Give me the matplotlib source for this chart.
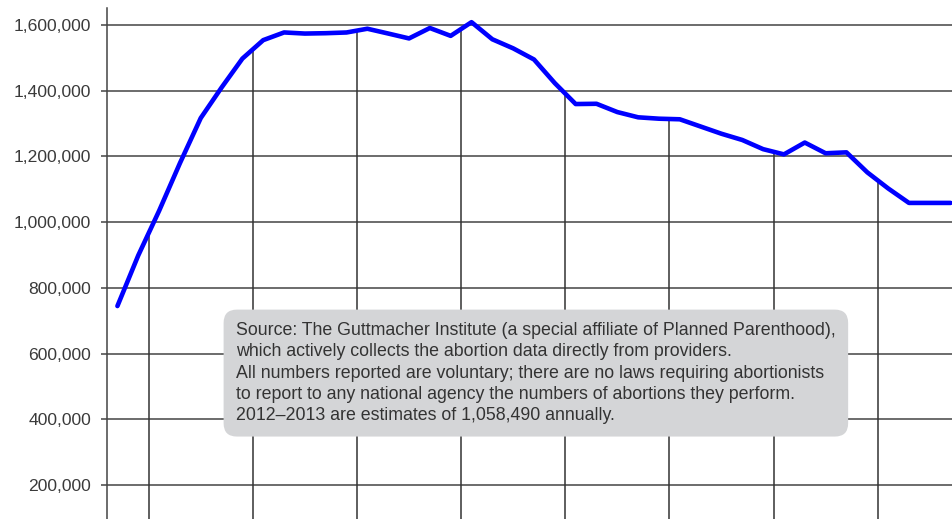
import numpy as np
import matplotlib
matplotlib.use('Agg')
import matplotlib.pyplot as plt
from matplotlib.ticker import FuncFormatter

plt.rcParams['font.family'] = ['Liberation Sans', 'DejaVu Sans']

years = np.arange(1973, 2014)
abortions = [744600, 898600, 1034200, 1179300, 1316700, 1409600, 1497700,
             1553900, 1577300, 1573900, 1575000, 1577200, 1588600, 1574000,
             1559100, 1590800, 1566900, 1608600, 1556500, 1528900, 1495000,
             1423000, 1359400, 1360200, 1335000, 1319000, 1314800, 1313000,
             1291000, 1269000, 1250000, 1222100, 1206200, 1242200, 1209600,
             1212400, 1151600, 1102700, 1058500, 1058490, 1058490]
y_ticks = [200000, 400000, 600000, 800000, 1000000, 1200000, 1400000, 1600000]
drop_years = [1974.5, 1979.5, 1984.5, 1989.5, 1994.5, 1999.5, 2004.5, 2009.5]

note = ("Source: The Guttmacher Institute (a special affiliate of Planned Parenthood),\n"
        "which actively collects the abortion data directly from providers.\n"
        "All numbers reported are voluntary; there are no laws requiring abortionists\n"
        "to report to any national agency the numbers of abortions they perform.\n"
        "2012\u20132013 are estimates of 1,058,490 annually.")

W, H = 952, 519
fig = plt.figure(figsize=(W / 100, H / 100), dpi=100)
ax = fig.add_axes([107 / W, 0, 854 / W, 1 - 8 / H])

ax.set_xlim(1972.5, 2013.5)
ax.set_ylim(96500, 1651700)

# horizontal grid
for t in y_ticks:
    ax.axhline(t, color='#444444', lw=1.1, zorder=1)

# drop lines from the curve down
drop_tops = np.interp(drop_years, years, abortions)
ax.vlines(drop_years, 0, drop_tops, color='#333333', lw=1.1, zorder=1)

ax.plot(years, abortions, color='#0000ff', lw=3.3, solid_joinstyle='round',
        solid_capstyle='round', zorder=3)

ax.set_yticks(y_ticks)
ax.yaxis.set_major_formatter(FuncFormatter(lambda v, p: f'{int(v):,}'))
ax.tick_params(axis='y', direction='out', length=4.5, width=1.1, color='#444444',
               labelsize=12.6, labelcolor='#3a3a3a', pad=7)
ax.set_xticks([])
for s in ['top', 'right', 'bottom']:
    ax.spines[s].set_visible(False)
ax.spines['left'].set_color('#444444')
ax.spines['left'].set_linewidth(1.1)

fig.text(236 / W, 1 - 322 / H, note, ha='left', va='top', fontsize=12.75,
         color='#333333', linespacing=1.33, zorder=5,
         bbox=dict(boxstyle='round,pad=0.7,rounding_size=0.75', fc='#d4d5d7', ec='none'))

fig.savefig('out.png', dpi=100)
